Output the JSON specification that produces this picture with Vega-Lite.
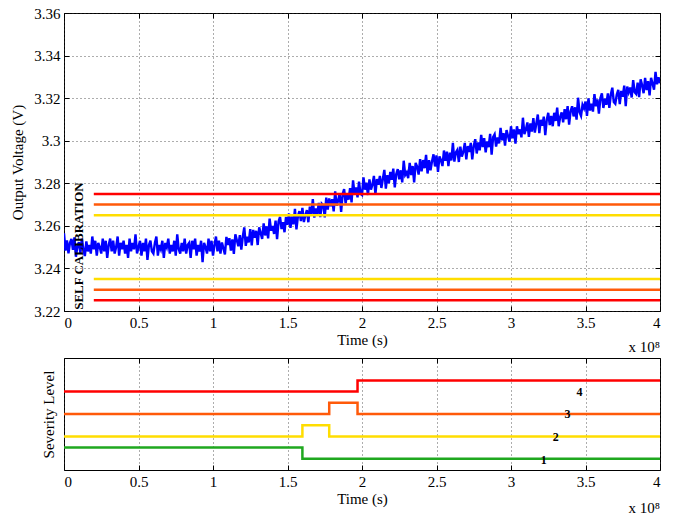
{
"$schema": "https://vega.github.io/schema/vega-lite/v6.json",
"background": "white",
"padding": {"left": 10, "top": 5, "right": 5, "bottom": 2},
"bounds": "flush",
"spacing": 47,
"config": {
  "font": "Liberation Serif",
  "view": {"stroke": "black", "strokeWidth": 1},
  "axis": {"labelFont": "Liberation Serif", "labelFontSize": 15, "labelColor": "black", "titleFont": "Liberation Serif", "titleFontSize": 15, "titleFontWeight": "normal", "titleColor": "black", "domain": false, "tickColor": "black", "tickSize": -5, "labelPadding": 9, "gridColor": "#333", "gridDash": [1, 3], "gridOpacity": 0.8, "gridWidth": 1}
},
"datasets": {
  "signal": [
{"t":0,"v":3.2565},{"t":0.01,"v":3.2484},{"t":0.02,"v":3.2532},{"t":0.03,"v":3.2471},{"t":0.04,"v":3.252},{"t":0.05,"v":3.2539},{"t":0.06,"v":3.2487},{"t":0.07,"v":3.2546},{"t":0.08,"v":3.2455},{"t":0.09,"v":3.2504},
{"t":0.1,"v":3.2523},{"t":0.11,"v":3.2472},{"t":0.12,"v":3.254},{"t":0.13,"v":3.2489},{"t":0.14,"v":3.2458},{"t":0.15,"v":3.2527},{"t":0.16,"v":3.248},{"t":0.17,"v":3.251},{"t":0.18,"v":3.247},{"t":0.19,"v":3.255},
{"t":0.2,"v":3.249},{"t":0.21,"v":3.253},{"t":0.22,"v":3.246},{"t":0.23,"v":3.252},{"t":0.24,"v":3.25},{"t":0.25,"v":3.247},{"t":0.26,"v":3.254},{"t":0.27,"v":3.248},{"t":0.28,"v":3.253},{"t":0.29,"v":3.245},
{"t":0.3,"v":3.251},{"t":0.31,"v":3.254},{"t":0.32,"v":3.248},{"t":0.33,"v":3.253},{"t":0.34,"v":3.247},{"t":0.35,"v":3.25},{"t":0.36,"v":3.255},{"t":0.37,"v":3.246},{"t":0.38,"v":3.252},{"t":0.39,"v":3.249},
{"t":0.4,"v":3.253},{"t":0.41,"v":3.247},{"t":0.42,"v":3.251},{"t":0.43,"v":3.245},{"t":0.44,"v":3.254},{"t":0.45,"v":3.248},{"t":0.46,"v":3.252},{"t":0.47,"v":3.249},{"t":0.48,"v":3.256},{"t":0.49,"v":3.247},
{"t":0.5,"v":3.25},{"t":0.51,"v":3.253},{"t":0.52,"v":3.246},{"t":0.53,"v":3.252},{"t":0.54,"v":3.248},{"t":0.55,"v":3.254},{"t":0.56,"v":3.244},{"t":0.57,"v":3.251},{"t":0.58,"v":3.253},{"t":0.59,"v":3.248},
{"t":0.6,"v":3.247},{"t":0.61,"v":3.252},{"t":0.62,"v":3.255},{"t":0.63,"v":3.246},{"t":0.64,"v":3.251},{"t":0.65,"v":3.249},{"t":0.66,"v":3.253},{"t":0.67,"v":3.245},{"t":0.68,"v":3.252},{"t":0.69,"v":3.25},
{"t":0.7,"v":3.254},{"t":0.71,"v":3.247},{"t":0.72,"v":3.251},{"t":0.73,"v":3.248},{"t":0.74,"v":3.253},{"t":0.75,"v":3.246},{"t":0.76,"v":3.256},{"t":0.77,"v":3.249},{"t":0.78,"v":3.247},{"t":0.79,"v":3.252},
{"t":0.8,"v":3.248},{"t":0.81,"v":3.254},{"t":0.82,"v":3.247},{"t":0.83,"v":3.251},{"t":0.84,"v":3.252},{"t":0.85,"v":3.245},{"t":0.86,"v":3.253},{"t":0.87,"v":3.249},{"t":0.88,"v":3.254},{"t":0.89,"v":3.246},
{"t":0.9,"v":3.251},{"t":0.91,"v":3.248},{"t":0.92,"v":3.253},{"t":0.93,"v":3.243},{"t":0.94,"v":3.252},{"t":0.95,"v":3.25},{"t":0.96,"v":3.247},{"t":0.97,"v":3.254},{"t":0.98,"v":3.248},{"t":0.99,"v":3.253},
{"t":1,"v":3.246},{"t":1.01,"v":3.251},{"t":1.02,"v":3.255},{"t":1.03,"v":3.248},{"t":1.04,"v":3.253},{"t":1.05,"v":3.247},{"t":1.06,"v":3.2522},{"t":1.07,"v":3.2494},{"t":1.08,"v":3.2466},{"t":1.09,"v":3.2548},
{"t":1.1,"v":3.251},{"t":1.11,"v":3.2542},{"t":1.12,"v":3.2484},{"t":1.13,"v":3.2536},{"t":1.14,"v":3.2468},{"t":1.15,"v":3.256},{"t":1.16,"v":3.2532},{"t":1.17,"v":3.2504},{"t":1.18,"v":3.2556},{"t":1.19,"v":3.2488},
{"t":1.2,"v":3.255},{"t":1.21,"v":3.2593},{"t":1.22,"v":3.2506},{"t":1.23,"v":3.2549},{"t":1.24,"v":3.2522},{"t":1.25,"v":3.2585},{"t":1.26,"v":3.2508},{"t":1.27,"v":3.2581},{"t":1.28,"v":3.2544},{"t":1.29,"v":3.2577},
{"t":1.3,"v":3.251},{"t":1.31,"v":3.2593},{"t":1.32,"v":3.2566},{"t":1.33,"v":3.2539},{"t":1.34,"v":3.2612},{"t":1.35,"v":3.2555},{"t":1.36,"v":3.2598},{"t":1.37,"v":3.2541},{"t":1.38,"v":3.2634},{"t":1.39,"v":3.2577},
{"t":1.4,"v":3.26},{"t":1.41,"v":3.2562},{"t":1.42,"v":3.2625},{"t":1.43,"v":3.2537},{"t":1.44,"v":3.262},{"t":1.45,"v":3.2642},{"t":1.46,"v":3.2585},{"t":1.47,"v":3.2617},{"t":1.48,"v":3.257},{"t":1.49,"v":3.2642},
{"t":1.5,"v":3.2605},{"t":1.51,"v":3.2658},{"t":1.52,"v":3.2591},{"t":1.53,"v":3.2644},{"t":1.54,"v":3.2607},{"t":1.55,"v":3.268},{"t":1.56,"v":3.2583},{"t":1.57,"v":3.2646},{"t":1.58,"v":3.2669},{"t":1.59,"v":3.2622},
{"t":1.6,"v":3.2685},{"t":1.61,"v":3.2618},{"t":1.62,"v":3.2651},{"t":1.63,"v":3.2674},{"t":1.64,"v":3.2617},{"t":1.65,"v":3.269},{"t":1.66,"v":3.2653},{"t":1.67,"v":3.2726},{"t":1.68,"v":3.2639},{"t":1.69,"v":3.2682},
{"t":1.7,"v":3.2655},{"t":1.71,"v":3.2708},{"t":1.72,"v":3.2641},{"t":1.73,"v":3.2704},{"t":1.74,"v":3.2697},{"t":1.75,"v":3.264},{"t":1.76,"v":3.2733},{"t":1.77,"v":3.2676},{"t":1.78,"v":3.2729},{"t":1.79,"v":3.2692},
{"t":1.8,"v":3.2725},{"t":1.81,"v":3.2668},{"t":1.82,"v":3.2762},{"t":1.83,"v":3.2695},{"t":1.84,"v":3.2719},{"t":1.85,"v":3.2752},{"t":1.86,"v":3.2666},{"t":1.87,"v":3.2749},{"t":1.88,"v":3.2773},{"t":1.89,"v":3.2706},
{"t":1.9,"v":3.275},{"t":1.91,"v":3.2723},{"t":1.92,"v":3.2777},{"t":1.93,"v":3.271},{"t":1.94,"v":3.2814},{"t":1.95,"v":3.2747},{"t":1.96,"v":3.2781},{"t":1.97,"v":3.2734},{"t":1.98,"v":3.2808},{"t":1.99,"v":3.2751},
{"t":2,"v":3.2745},{"t":2.01,"v":3.2828},{"t":2.02,"v":3.277},{"t":2.03,"v":3.2803},{"t":2.04,"v":3.2745},{"t":2.05,"v":3.2818},{"t":2.06,"v":3.277},{"t":2.07,"v":3.2793},{"t":2.08,"v":3.2835},{"t":2.09,"v":3.2748},
{"t":2.1,"v":3.282},{"t":2.11,"v":3.2793},{"t":2.12,"v":3.2835},{"t":2.13,"v":3.2778},{"t":2.14,"v":3.282},{"t":2.15,"v":3.2863},{"t":2.16,"v":3.2775},{"t":2.17,"v":3.2838},{"t":2.18,"v":3.28},{"t":2.19,"v":3.2853},
{"t":2.2,"v":3.2816},{"t":2.21,"v":3.2869},{"t":2.22,"v":3.2781},{"t":2.23,"v":3.2844},{"t":2.24,"v":3.2866},{"t":2.25,"v":3.2819},{"t":2.26,"v":3.2861},{"t":2.27,"v":3.2804},{"t":2.28,"v":3.2906},{"t":2.29,"v":3.2839},
{"t":2.3,"v":3.2851},{"t":2.31,"v":3.2824},{"t":2.32,"v":3.2896},{"t":2.33,"v":3.2839},{"t":2.34,"v":3.2881},{"t":2.35,"v":3.2804},{"t":2.36,"v":3.2896},{"t":2.37,"v":3.2879},{"t":2.38,"v":3.2841},{"t":2.39,"v":3.2914},
{"t":2.4,"v":3.2856},{"t":2.41,"v":3.2909},{"t":2.42,"v":3.2871},{"t":2.43,"v":3.2934},{"t":2.44,"v":3.2846},{"t":2.45,"v":3.2909},{"t":2.46,"v":3.2861},{"t":2.47,"v":3.2904},{"t":2.48,"v":3.2936},{"t":2.49,"v":3.2879},
{"t":2.5,"v":3.2931},{"t":2.51,"v":3.2854},{"t":2.52,"v":3.2926},{"t":2.53,"v":3.2909},{"t":2.54,"v":3.2881},{"t":2.55,"v":3.2954},{"t":2.56,"v":3.2906},{"t":2.57,"v":3.2949},{"t":2.58,"v":3.2881},{"t":2.59,"v":3.2944},
{"t":2.6,"v":3.2907},{"t":2.61,"v":3.299},{"t":2.62,"v":3.2902},{"t":2.63,"v":3.2945},{"t":2.64,"v":3.2957},{"t":2.65,"v":3.29},{"t":2.66,"v":3.2972},{"t":2.67,"v":3.2925},{"t":2.68,"v":3.2947},{"t":2.69,"v":3.299},
{"t":2.7,"v":3.2912},{"t":2.71,"v":3.2975},{"t":2.72,"v":3.2947},{"t":2.73,"v":3.299},{"t":2.74,"v":3.2912},{"t":2.75,"v":3.2975},{"t":2.76,"v":3.3007},{"t":2.77,"v":3.294},{"t":2.78,"v":3.2992},{"t":2.79,"v":3.2955},
{"t":2.8,"v":3.3027},{"t":2.81,"v":3.297},{"t":2.82,"v":3.3012},{"t":2.83,"v":3.2945},{"t":2.84,"v":3.2997},{"t":2.85,"v":3.297},{"t":2.86,"v":3.3032},{"t":2.87,"v":3.2935},{"t":2.88,"v":3.3017},{"t":2.89,"v":3.303},
{"t":2.9,"v":3.2972},{"t":2.91,"v":3.3015},{"t":2.92,"v":3.2987},{"t":2.93,"v":3.306},{"t":2.94,"v":3.3002},{"t":2.95,"v":3.3035},{"t":2.96,"v":3.2977},{"t":2.97,"v":3.305},{"t":2.98,"v":3.3022},{"t":2.99,"v":3.2995},
{"t":3,"v":3.3068},{"t":3.01,"v":3.3011},{"t":3.02,"v":3.3053},{"t":3.03,"v":3.2986},{"t":3.04,"v":3.3068},{"t":3.05,"v":3.3031},{"t":3.06,"v":3.3053},{"t":3.07,"v":3.3016},{"t":3.08,"v":3.3108},{"t":3.09,"v":3.3031},
{"t":3.1,"v":3.3053},{"t":3.11,"v":3.3086},{"t":3.12,"v":3.3018},{"t":3.13,"v":3.3081},{"t":3.14,"v":3.3043},{"t":3.15,"v":3.3106},{"t":3.16,"v":3.3038},{"t":3.17,"v":3.3081},{"t":3.18,"v":3.3123},{"t":3.19,"v":3.3036},
{"t":3.2,"v":3.3098},{"t":3.21,"v":3.3071},{"t":3.22,"v":3.3113},{"t":3.23,"v":3.3026},{"t":3.24,"v":3.3098},{"t":3.25,"v":3.3131},{"t":3.26,"v":3.3073},{"t":3.27,"v":3.3116},{"t":3.28,"v":3.3068},{"t":3.29,"v":3.3131},
{"t":3.3,"v":3.3093},{"t":3.31,"v":3.3156},{"t":3.32,"v":3.3068},{"t":3.33,"v":3.3111},{"t":3.34,"v":3.3133},{"t":3.35,"v":3.3086},{"t":3.36,"v":3.3148},{"t":3.37,"v":3.3101},{"t":3.38,"v":3.3163},{"t":3.39,"v":3.3076},
{"t":3.4,"v":3.3139},{"t":3.41,"v":3.3162},{"t":3.42,"v":3.3114},{"t":3.43,"v":3.3157},{"t":3.44,"v":3.3099},{"t":3.45,"v":3.3202},{"t":3.46,"v":3.3134},{"t":3.47,"v":3.3117},{"t":3.48,"v":3.3169},{"t":3.49,"v":3.3152},
{"t":3.5,"v":3.3184},{"t":3.51,"v":3.3117},{"t":3.52,"v":3.3199},{"t":3.53,"v":3.3142},{"t":3.54,"v":3.3174},{"t":3.55,"v":3.3137},{"t":3.56,"v":3.3219},{"t":3.57,"v":3.3162},{"t":3.58,"v":3.3194},{"t":3.59,"v":3.3127},
{"t":3.6,"v":3.3199},{"t":3.61,"v":3.3222},{"t":3.62,"v":3.3154},{"t":3.63,"v":3.3197},{"t":3.64,"v":3.3169},{"t":3.65,"v":3.3222},{"t":3.66,"v":3.3154},{"t":3.67,"v":3.3217},{"t":3.68,"v":3.3249},{"t":3.69,"v":3.3182},
{"t":3.7,"v":3.3174},{"t":3.71,"v":3.3217},{"t":3.72,"v":3.3239},{"t":3.73,"v":3.3172},{"t":3.74,"v":3.3234},{"t":3.75,"v":3.3207},{"t":3.76,"v":3.3259},{"t":3.77,"v":3.3162},{"t":3.78,"v":3.3254},{"t":3.79,"v":3.3227},
{"t":3.8,"v":3.325},{"t":3.81,"v":3.3203},{"t":3.82,"v":3.3285},{"t":3.83,"v":3.3228},{"t":3.84,"v":3.322},{"t":3.85,"v":3.3273},{"t":3.86,"v":3.3205},{"t":3.87,"v":3.3288},{"t":3.88,"v":3.326},{"t":3.89,"v":3.3223},
{"t":3.9,"v":3.3295},{"t":3.91,"v":3.3238},{"t":3.92,"v":3.328},{"t":3.93,"v":3.3213},{"t":3.94,"v":3.3295},{"t":3.95,"v":3.3268},{"t":3.96,"v":3.324},{"t":3.97,"v":3.3323},{"t":3.98,"v":3.3265},{"t":3.99,"v":3.3298},
{"t":4,"v":3.327}
  ],
  "thresholds": [
    {"t": 0.2, "t2": 4, "v": 3.275, "level": "red"},
    {"t": 0.2, "t2": 4, "v": 3.27, "level": "orange"},
    {"t": 0.2, "t2": 4, "v": 3.265, "level": "yellow"},
    {"t": 0.2, "t2": 4, "v": 3.235, "level": "yellow"},
    {"t": 0.2, "t2": 4, "v": 3.23, "level": "orange"},
    {"t": 0.2, "t2": 4, "v": 3.225, "level": "red"}
  ],
  "severity": [
    {"t": 0, "s": 1.0, "level": "green", "k": 0},
    {"t": 1.6, "s": 1.0, "level": "green", "k": 1},
    {"t": 1.6, "s": 0.5, "level": "green", "k": 2},
    {"t": 4, "s": 0.5, "level": "green", "k": 3},
    {"t": 0, "s": 1.5, "level": "yellow", "k": 0},
    {"t": 1.6, "s": 1.5, "level": "yellow", "k": 1},
    {"t": 1.6, "s": 2.0, "level": "yellow", "k": 2},
    {"t": 1.78, "s": 2.0, "level": "yellow", "k": 3},
    {"t": 1.78, "s": 1.5, "level": "yellow", "k": 4},
    {"t": 4, "s": 1.5, "level": "yellow", "k": 5},
    {"t": 0, "s": 2.5, "level": "orange", "k": 0},
    {"t": 1.78, "s": 2.5, "level": "orange", "k": 1},
    {"t": 1.78, "s": 3.0, "level": "orange", "k": 2},
    {"t": 1.97, "s": 3.0, "level": "orange", "k": 3},
    {"t": 1.97, "s": 2.5, "level": "orange", "k": 4},
    {"t": 4, "s": 2.5, "level": "orange", "k": 5},
    {"t": 0, "s": 3.5, "level": "red", "k": 0},
    {"t": 1.97, "s": 3.5, "level": "red", "k": 1},
    {"t": 1.97, "s": 4.0, "level": "red", "k": 2},
    {"t": 4, "s": 4.0, "level": "red", "k": 3}
  ],
  "sevLabels": [
    {"t": 3.22, "s": 0.46, "label": "1"},
    {"t": 3.30, "s": 1.46, "label": "2"},
    {"t": 3.38, "s": 2.48, "label": "3"},
    {"t": 3.46, "s": 3.48, "label": "4"}
  ]
},
"vconcat": [
  {
    "width": 596,
    "height": 298,
    "resolve": {"axis": {"x": "independent", "y": "independent"}},
    "layer": [
      {
        "data": {"name": "signal"},
        "mark": {"type": "line", "color": "#0000ff", "strokeWidth": 2.4, "clip": true},
        "encoding": {
          "x": {"field": "t", "type": "quantitative", "scale": {"domain": [0, 4], "nice": false}, "axis": {"values": [0, 0.5, 1, 1.5, 2, 2.5, 3, 3.5, 4], "format": ".1~f", "title": "Time (s)", "titlePadding": 2}},
          "y": {"field": "v", "type": "quantitative", "scale": {"domain": [3.22, 3.36], "nice": false, "zero": false}, "axis": {"values": [3.22, 3.24, 3.26, 3.28, 3.3, 3.32, 3.34, 3.36], "format": ".2~f", "title": "Output Voltage (V)", "titlePadding": 8}}
        }
      },
      {
        "data": {"name": "thresholds"},
        "mark": {"type": "rule", "strokeWidth": 2.5},
        "encoding": {
          "x": {"field": "t", "type": "quantitative", "scale": {"domain": [0, 4], "nice": false}, "axis": null},
          "x2": {"field": "t2"},
          "y": {"field": "v", "type": "quantitative", "scale": {"domain": [3.22, 3.36], "nice": false, "zero": false}, "axis": null},
          "color": {"field": "level", "type": "nominal", "scale": {"domain": ["green", "yellow", "orange", "red"], "range": ["#1fa81f", "#ffdd00", "#ff5a0a", "#ff0000"]}, "legend": null}
        }
      },
      {
        "data": {"values": [{"t": 0.1, "v": 3.2505, "label": "SELF CALIBRATION"}]},
        "mark": {"type": "text", "angle": 270, "fontWeight": "bold", "fontSize": 13, "font": "Liberation Serif", "color": "black"},
        "encoding": {
          "x": {"field": "t", "type": "quantitative", "scale": {"domain": [0, 4], "nice": false}, "axis": {"orient": "top", "values": [0, 0.5, 1, 1.5, 2, 2.5, 3, 3.5, 4], "labels": false, "title": null, "grid": false}},
          "y": {"field": "v", "type": "quantitative", "scale": {"domain": [3.22, 3.36], "nice": false, "zero": false}, "axis": {"orient": "right", "values": [3.22, 3.24, 3.26, 3.28, 3.3, 3.32, 3.34, 3.36], "labels": false, "title": null, "grid": false}},
          "text": {"field": "label"}
        }
      },
      {
        "data": {"values": [{"t": 4, "v": 3.22, "label": "x 10⁸"}]},
        "mark": {"type": "text", "align": "right", "baseline": "middle", "dy": 36, "fontSize": 15, "font": "Liberation Serif", "color": "black"},
        "encoding": {
          "x": {"field": "t", "type": "quantitative", "scale": {"domain": [0, 4], "nice": false}, "axis": null},
          "y": {"field": "v", "type": "quantitative", "scale": {"domain": [3.22, 3.36], "nice": false, "zero": false}, "axis": null},
          "text": {"field": "label"}
        }
      }
    ]
  },
  {
    "width": 596,
    "height": 112,
    "resolve": {"axis": {"x": "independent", "y": "independent"}},
    "layer": [
      {
        "data": {"name": "severity"},
        "mark": {"type": "line", "strokeWidth": 2.5},
        "encoding": {
          "x": {"field": "t", "type": "quantitative", "scale": {"domain": [0, 4], "nice": false}, "axis": {"values": [0, 0.5, 1, 1.5, 2, 2.5, 3, 3.5, 4], "format": ".1~f", "title": "Time (s)", "titlePadding": 2}},
          "y": {"field": "s", "type": "quantitative", "scale": {"domain": [0, 5], "nice": false}, "axis": {"title": "Severity Level", "labels": false, "ticks": false, "grid": false, "titlePadding": 8}},
          "color": {"field": "level", "type": "nominal", "scale": {"domain": ["green", "yellow", "orange", "red"], "range": ["#1fa81f", "#ffdd00", "#ff5a0a", "#ff0000"]}, "legend": null},
          "order": {"field": "k"}
        }
      },
      {
        "data": {"name": "sevLabels"},
        "mark": {"type": "text", "fontWeight": "bold", "fontSize": 12, "font": "Liberation Serif", "color": "black"},
        "encoding": {
          "x": {"field": "t", "type": "quantitative", "scale": {"domain": [0, 4], "nice": false}, "axis": {"orient": "top", "values": [0, 0.5, 1, 1.5, 2, 2.5, 3, 3.5, 4], "labels": false, "title": null, "grid": false}},
          "y": {"field": "s", "type": "quantitative", "scale": {"domain": [0, 5], "nice": false}, "axis": null},
          "text": {"field": "label"}
        }
      },
      {
        "data": {"values": [{"t": 4, "s": 0, "label": "x 10⁸"}]},
        "mark": {"type": "text", "align": "right", "baseline": "middle", "dy": 38, "fontSize": 15, "font": "Liberation Serif", "color": "black"},
        "encoding": {
          "x": {"field": "t", "type": "quantitative", "scale": {"domain": [0, 4], "nice": false}, "axis": null},
          "y": {"field": "s", "type": "quantitative", "scale": {"domain": [0, 5], "nice": false}, "axis": null},
          "text": {"field": "label"}
        }
      }
    ]
  }
]
}
